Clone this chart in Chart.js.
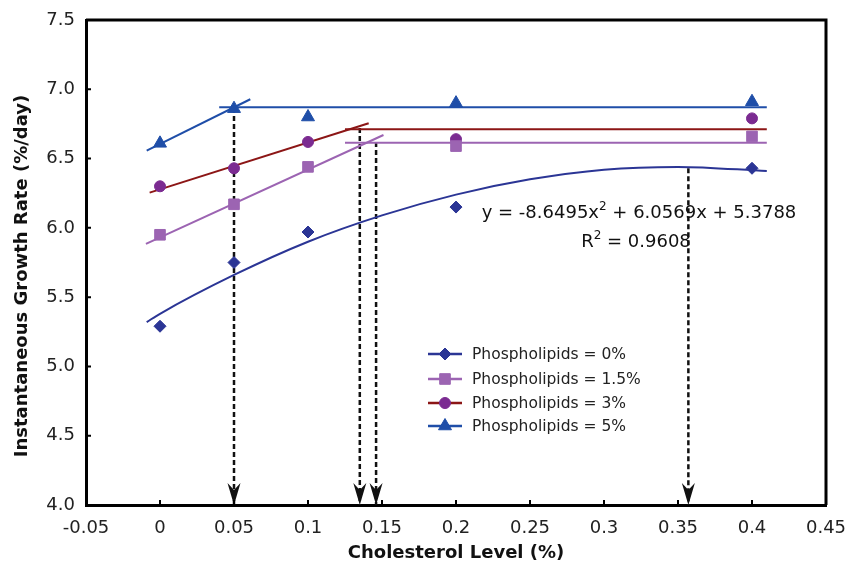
<!DOCTYPE html>
<html>
<head>
<meta charset="utf-8">
<title>Growth rate vs cholesterol level</title>
<script src="https://cdn.jsdelivr.net/npm/chart.js@4.4.0/dist/chart.umd.min.js"></script>
<style>
    html, body { margin: 0; padding: 0; background: #fff; }
    #wrap { width: 847px; height: 567px; }
</style>
</head>
<body>
<div id="wrap"><canvas id="growthChart"></canvas></div>
<script>
// Measured points (cholesterol level % -> growth rate %/day)
const cholesterol = [0, 0.05, 0.1, 0.2, 0.4];
const growth0 = [5.29, 5.75, 5.97, 6.15, 6.43];
const growth15 = [5.95, 6.17, 6.44, 6.59, 6.66];
const growth3 = [6.30, 6.43, 6.62, 6.64, 6.79];
const growth5 = [6.61, 6.86, 6.80, 6.90, 6.91];

const seriesNames = ['Phospholipids = 0%', 'Phospholipids = 1.5%', 'Phospholipids = 3%', 'Phospholipids = 5%'];

// Quadratic trend for 0%
const fitX0 = [-0.009, 0, 0.05, 0.1, 0.15, 0.2, 0.25, 0.3, 0.35, 0.41];
const fitY0 = [5.32, 5.38, 5.66, 5.90, 6.09, 6.24, 6.35, 6.42, 6.44, 6.41];

// Linear + plateau fits (start/end of each segment)
const riseX15 = [-0.0095, 0.151];
const riseY15 = [5.884, 6.670];
const flatX15 = [0.125, 0.41];
const flatY15 = [6.615, 6.615];

const riseX3 = [-0.007, 0.141];
const riseY3 = [6.254, 6.755];
const flatX3 = [0.125, 0.41];
const flatY3 = [6.711, 6.711];

const riseX5 = [-0.009, 0.061];
const riseY5 = [6.557, 6.928];
const flatX5 = [0.04, 0.41];
const flatY5 = [6.87, 6.87];

// Break points marked with dashed arrows
const breakX = [0.05, 0.135, 0.146, 0.357];
const breakY = [6.865, 6.72, 6.62, 6.43];

const xTickLabels = ['-0.05', '0', '0.05', '0.1', '0.15', '0.2', '0.25', '0.3', '0.35', '0.4', '0.45'];
const yTickLabels = ['4.0', '4.5', '5.0', '5.5', '6.0', '6.5', '7.0', '7.5'];

const eqParts = ['y = -8.6495x', '2', ' + 6.0569x + 5.3788'];
const r2Parts = ['R', '2', ' = 0.9608'];

const colors = {
    p0: '#2b3595',
    p15: '#9c64b2',
    p3line: '#8c1616',
    p3mark: '#7b2b91',
    p5: '#1f4ea8'
};

function toPoints(xs, ys) {
    return xs.map((x, i) => ({ x: x, y: ys[i] }));
}

function markerSet(label, ys, color, style, radius) {
    return {
        label: label,
        data: toPoints(cholesterol, ys),
        showLine: false,
        pointStyle: style,
        pointRadius: radius,
        pointHoverRadius: radius,
        pointBackgroundColor: color,
        pointBorderColor: color,
        pointBorderWidth: 1,
        borderColor: color
    };
}

function lineSet(xs, ys, color, extra) {
    return Object.assign({
        data: toPoints(xs, ys),
        showLine: true,
        pointRadius: 0,
        borderColor: color,
        borderWidth: 2,
        fill: false
    }, extra || {});
}

const markerSets = [
    markerSet(seriesNames[0], growth0, colors.p0, 'rectRot', 6),
    markerSet(seriesNames[1], growth15, colors.p15, 'rect', 7.5),
    markerSet(seriesNames[2], growth3, colors.p3mark, 'circle', 5.5),
    markerSet(seriesNames[3], growth5, colors.p5, 'triangle', 7.5)
];

const fitSets = [
    lineSet(fitX0, fitY0, colors.p0, { cubicInterpolationMode: 'monotone' }),
    lineSet(riseX15, riseY15, colors.p15),
    lineSet(flatX15, flatY15, colors.p15),
    lineSet(riseX3, riseY3, colors.p3line),
    lineSet(flatX3, flatY3, colors.p3line),
    lineSet(riseX5, riseY5, colors.p5),
    lineSet(flatX5, flatY5, colors.p5)
];

const arrowSets = breakX.map((x, i) => lineSet([x, x], [breakY[i], 4.0], '#111', {
    borderWidth: 2.5,
    borderDash: [5, 3],
    isArrow: true
}));

const legendMarkers = [
    { color: colors.p0, line: colors.p0, style: 'rectRot', radius: 6 },
    { color: colors.p15, line: colors.p15, style: 'rect', radius: 7.5 },
    { color: colors.p3mark, line: colors.p3line, style: 'circle', radius: 5.5 },
    { color: colors.p5, line: colors.p5, style: 'triangle', radius: 7.5 }
];

function drawParts(ctx, parts, cx, baseline, size) {
    ctx.font = size + 'px "DejaVu Sans"';
    const w0 = ctx.measureText(parts[0]).width;
    const w2 = ctx.measureText(parts[2]).width;
    ctx.font = Math.round(size * 0.65) + 'px "DejaVu Sans"';
    const w1 = ctx.measureText(parts[1]).width;
    let x = cx - (w0 + w1 + w2) / 2;
    ctx.textAlign = 'left';
    ctx.textBaseline = 'alphabetic';
    ctx.font = size + 'px "DejaVu Sans"';
    ctx.fillText(parts[0], x, baseline);
    x += w0;
    ctx.font = Math.round(size * 0.65) + 'px "DejaVu Sans"';
    ctx.fillText(parts[1], x, baseline - size * 0.42);
    x += w1;
    ctx.font = size + 'px "DejaVu Sans"';
    ctx.fillText(parts[2], x, baseline);
}

const extrasPlugin = {
    id: 'extras',
    afterDatasetsDraw(chart) {
        const ctx = chart.ctx;
        // arrow heads at the bottom of the dashed lines
        chart.data.datasets.forEach((ds, i) => {
            if (!ds.isArrow) return;
            const pts = chart.getDatasetMeta(i).data;
            const tip = pts[1];
            ctx.save();
            ctx.fillStyle = '#111';
            ctx.beginPath();
            ctx.moveTo(tip.x, tip.y);
            ctx.lineTo(tip.x - 6.5, tip.y - 22);
            ctx.lineTo(tip.x, tip.y - 15);
            ctx.lineTo(tip.x + 6.5, tip.y - 22);
            ctx.closePath();
            ctx.fill();
            ctx.restore();
        });
    },
    afterDraw(chart) {
        const ctx = chart.ctx;
        const area = chart.chartArea;
        const xScale = chart.scales.x;
        const yScale = chart.scales.y;

        ctx.save();
        // top and right frame
        ctx.strokeStyle = '#000';
        ctx.lineWidth = 3;
        ctx.beginPath();
        ctx.moveTo(area.left, area.top);
        ctx.lineTo(area.right, area.top);
        ctx.lineTo(area.right, area.bottom);
        ctx.stroke();

        // inward tick marks
        ctx.lineWidth = 2;
        ctx.beginPath();
        xScale.ticks.forEach(t => {
            const px = xScale.getPixelForValue(t.value);
            ctx.moveTo(px, area.bottom);
            ctx.lineTo(px, area.bottom - 5);
        });
        yScale.ticks.forEach(t => {
            const py = yScale.getPixelForValue(t.value);
            ctx.moveTo(area.left, py);
            ctx.lineTo(area.left + 5, py);
        });
        ctx.stroke();

        // legend
        const rows = [354, 379, 403, 426];
        legendMarkers.forEach((m, i) => {
            const y = rows[i];
            ctx.strokeStyle = m.line;
            ctx.lineWidth = 2.5;
            ctx.beginPath();
            ctx.moveTo(428, y);
            ctx.lineTo(462, y);
            ctx.stroke();
            ctx.fillStyle = m.color;
            ctx.strokeStyle = m.color;
            ctx.lineWidth = 1;
            Chart.helpers.drawPoint(ctx, { pointStyle: m.style, radius: m.radius, borderWidth: 1, rotation: 0 }, 445, y);
            ctx.fillStyle = '#222';
            ctx.font = '15.5px "DejaVu Sans"';
            ctx.textAlign = 'left';
            ctx.textBaseline = 'middle';
            ctx.fillText(seriesNames[i], 472, y + 1);
        });

        // trend equation
        ctx.fillStyle = '#111';
        drawParts(ctx, eqParts, 639, 218, 18);
        drawParts(ctx, r2Parts, 636, 247, 18);

        // axis titles
        ctx.fillStyle = '#111';
        ctx.font = 'bold 18px "DejaVu Sans"';
        ctx.textAlign = 'center';
        ctx.textBaseline = 'middle';
        ctx.fillText('Cholesterol Level (%)', (area.left + area.right) / 2, 553);
        ctx.translate(22, 276);
        ctx.rotate(-Math.PI / 2);
        ctx.fillText('Instantaneous Growth Rate (%/day)', 0, 0);
        ctx.restore();
    }
};

Chart.defaults.font.family = '"DejaVu Sans"';
Chart.defaults.color = '#222';

new Chart(document.getElementById('growthChart'), {
    type: 'scatter',
    data: {
        datasets: markerSets.concat(fitSets, arrowSets)
    },
    options: {
        responsive: true,
        maintainAspectRatio: false,
        animation: false,
        layout: {
            padding: { left: 0, top: 20, right: 21, bottom: 0 }
        },
        plugins: {
            legend: { display: false },
            tooltip: { enabled: false }
        },
        scales: {
            x: {
                type: 'linear',
                min: -0.05,
                max: 0.45,
                afterFit: function(scale) {
                    scale.height = 62;
                    // let the last label overflow like in the original
                    scale.paddingLeft = 0;
                    scale.paddingRight = 0;
                },
                ticks: {
                    stepSize: 0.05,
                    padding: 13,
                    font: { size: 18 },
                    color: '#222',
                    callback: function(value, index) { return xTickLabels[index]; }
                },
                grid: { display: false, drawTicks: false },
                border: { display: true, color: '#000', width: 3 }
            },
            y: {
                type: 'linear',
                min: 4.0,
                max: 7.5,
                afterFit: function(scale) {
                    scale.width = 86;
                    scale.paddingTop = 0;
                    scale.paddingBottom = 0;
                },
                ticks: {
                    stepSize: 0.5,
                    padding: 11,
                    font: { size: 18 },
                    color: '#222',
                    callback: function(value, index) { return yTickLabels[index]; }
                },
                grid: { display: false, drawTicks: false },
                border: { display: true, color: '#000', width: 3 }
            }
        }
    },
    plugins: [extrasPlugin]
});
</script>
</body>
</html>
